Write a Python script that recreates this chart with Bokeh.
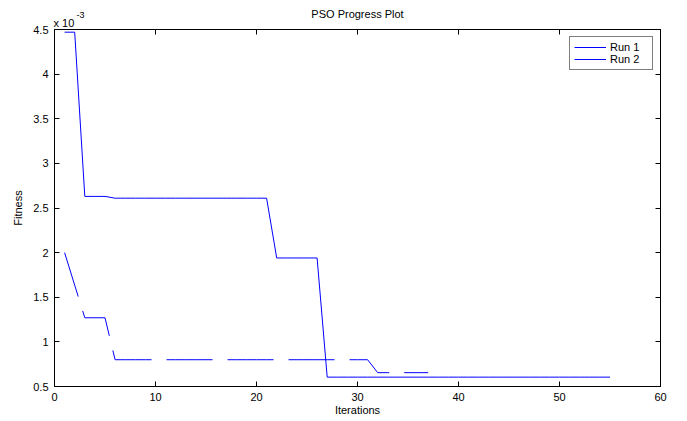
from bokeh.plotting import figure
from bokeh.models import LinearAxis, Legend, LegendItem, Label, FixedTicker
from bokeh.embed import file_html
from bokeh.resources import INLINE

# Fitness values are in units of 1e-3 (axis shows "x 10^-3")
iter_run1 = list(range(1, 56))
fitness_run1 = [4.47, 4.47, 2.63, 2.63, 2.63,
                2.61, 2.61, 2.61, 2.61, 2.61, 2.61, 2.61, 2.61,
                2.61, 2.61, 2.61, 2.61, 2.61, 2.61, 2.61, 2.61,
                1.94, 1.94, 1.94, 1.94, 1.94,
                0.605, 0.605, 0.605, 0.605, 0.605, 0.605, 0.605, 0.605, 0.605, 0.605,
                0.605, 0.605, 0.605, 0.605, 0.605, 0.605, 0.605, 0.605, 0.605, 0.605,
                0.605, 0.605, 0.605, 0.605, 0.605, 0.605, 0.605, 0.605, 0.605]
iter_run2 = list(range(1, 38))
fitness_run2 = [2.0, 1.635, 1.27, 1.27, 1.27,
                0.80, 0.80, 0.80, 0.80, 0.80, 0.80, 0.80, 0.80, 0.80, 0.80,
                0.80, 0.80, 0.80, 0.80, 0.80, 0.80, 0.80, 0.80, 0.80, 0.80,
                0.80, 0.80, 0.80, 0.80, 0.80, 0.80,
                0.655, 0.655, 0.655, 0.655, 0.655, 0.655]
x_ticks = [0, 10, 20, 30, 40, 50, 60]
y_ticks = [0.5, 1, 1.5, 2, 2.5, 3, 3.5, 4, 4.5]
x_limits = (0, 60)
y_limits = (0.5, 4.5)
title_text = "PSO Progress Plot"

FONT = "Liberation Sans"

p = figure(width=687, height=421, x_range=x_limits, y_range=y_limits,
           output_backend="svg", toolbar_location=None,
           min_border_left=54, min_border_right=27, min_border_top=29, min_border_bottom=35)
p.xgrid.visible = False
p.ygrid.visible = False
p.outline_line_color = "black"
p.outline_line_width = 1

def style_axis(ax, ticks, labels=True):
    ax.ticker = FixedTicker(ticks=ticks)
    ax.minor_tick_line_color = None
    ax.major_tick_in = 5
    ax.major_tick_out = 0
    ax.axis_line_color = "black"
    ax.major_tick_line_color = "black"
    ax.major_label_text_font = FONT
    ax.major_label_text_font_size = "11px" if labels else "6px"
    ax.major_label_text_color = "black" if labels else None
    ax.major_label_standoff = 6 if labels else 0
    ax.axis_label_text_font = FONT
    ax.axis_label_text_font_size = "11px"
    ax.axis_label_text_font_style = "normal"
    ax.axis_label_text_color = "black"

style_axis(p.xaxis[0], x_ticks)
style_axis(p.yaxis[0], y_ticks)
p.xaxis.axis_label = "Iterations"
p.yaxis.axis_label = "Fitness"
p.xaxis.axis_label_standoff = 0
p.yaxis.axis_label_standoff = 6

top_ax = LinearAxis()
style_axis(top_ax, x_ticks, labels=False)
p.add_layout(top_ax, "above")
right_ax = LinearAxis()
style_axis(right_ax, y_ticks, labels=False)
p.add_layout(right_ax, "right")

r1 = p.line(iter_run1, fitness_run1, line_color="#0000ff", line_width=1)
r2 = p.line(iter_run2, fitness_run2, line_color="#0000ff", line_width=1, line_dash="46 15")

legend = Legend(items=[LegendItem(label="Run 1", renderers=[r1]),
                       LegendItem(label="Run 2", renderers=[r2])],
                location="top_right")
legend.label_text_font = FONT
legend.label_text_font_size = "11px"
legend.label_text_color = "black"
legend.border_line_color = "black"
legend.border_line_width = 1
legend.glyph_width = 32
legend.glyph_height = 10
legend.label_height = 10
legend.label_width = 38
legend.spacing = 0
legend.padding = 4
legend.margin = 7
legend.label_standoff = 4
legend.background_fill_alpha = 1
p.add_layout(legend)

# chart title and exponent marker, anchored to the axes' top-left / top-centre
x_mid = (x_limits[0] + x_limits[1]) / 2
title_lbl = Label(x=x_mid, y=y_limits[1], x_units="data", y_units="data", y_offset=16,
                  text=title_text, text_font=FONT, text_font_size="11px", text_color="black",
                  text_align="center", text_baseline="alphabetic")
exp_base = Label(x=x_limits[0], y=y_limits[1], x_units="data", y_units="data",
                 x_offset=-1, y_offset=7, text="x 10", text_font=FONT, text_font_size="11px",
                 text_color="black", text_baseline="alphabetic")
exp_pow = Label(x=x_limits[0], y=y_limits[1], x_units="data", y_units="data",
                x_offset=22, y_offset=15, text="-3", text_font=FONT, text_font_size="9px",
                text_color="black", text_baseline="alphabetic")
p.add_layout(title_lbl, "above")
p.add_layout(exp_base, "above")
p.add_layout(exp_pow, "right")

open("out.html", "w").write(file_html(p, INLINE))
